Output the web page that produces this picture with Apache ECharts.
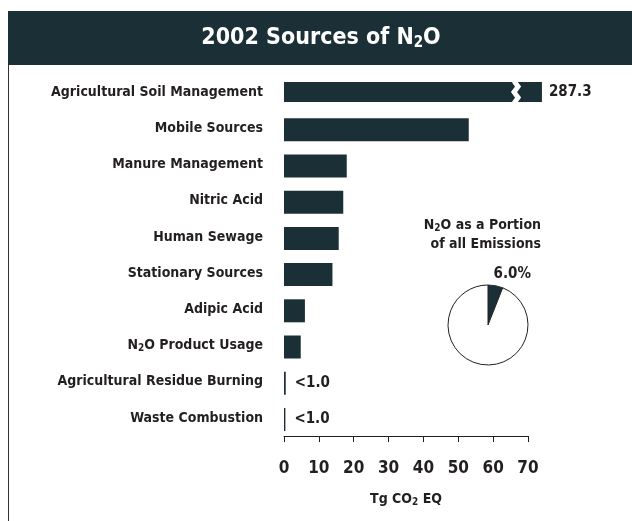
<!DOCTYPE html>
<html>
<head>
<meta charset="utf-8">
<script src="https://cdn.jsdelivr.net/npm/echarts@6/dist/echarts.min.js"></script>
<style>
html,body{margin:0;padding:0;background:#fff;}
#c{width:632px;height:521px;}
</style>
</head>
<body>
<div id="c"></div>
<script>
// ---- data ----
var categories = ['Agricultural Soil Management','Mobile Sources','Manure Management','Nitric Acid','Human Sewage','Stationary Sources','Adipic Acid','N2O Product Usage','Agricultural Residue Burning','Waste Combustion'];
var values = [287.3, 53.0, 18.0, 17.0, 15.7, 13.9, 6.0, 4.8, 0.5, 0.4];
var valueLabels = ['287.3','','','','','','','','<1.0','<1.0'];
var xTicks = [0, 10, 20, 30, 40, 50, 60, 70];
var axisMax = 70;
var brokenBarDrawnTo = 74;   // the off-scale bar is drawn broken, ending just past the axis
var breakAt = 66;            // where the zigzag break sits on the broken bar
var pieLabels = ['N2O', 'Other'];
var pieValues = [6.0, 94.0];

var FONT = "'Liberation Sans Narrow','DejaVu Sans Condensed',sans-serif";
var DARK = '#1b3036';
var TXT = '#231f20';

var chart = echarts.init(document.getElementById('c'), null, {renderer:'canvas'});

function catLabel(v){
  if (v.indexOf('N2O') === 0) return '{a|N}{s|2}{a|O' + v.slice(3) + '}';
  return '{a|' + v + '}';
}
function richSet(size, sub, color, lh, pad){
  return {
    a: {fontFamily: FONT, fontWeight: 'bold', fontSize: size, color: color, lineHeight: lh},
    s: {fontFamily: FONT, fontWeight: 'bold', fontSize: sub, color: color, lineHeight: lh, padding: [pad,0,0,0]}
  };
}

var mainData = values.map(function(v){ return v > axisMax ? '-' : v; });
var brokenData = values.map(function(v){ return v > axisMax ? brokenBarDrawnTo : '-'; });

var option = {
  animation: false,
  title: [
    {
      text: '{a|2002 Sources of N}{s|2}{a|O}',
      left: 321, top: 23, textAlign: 'center', padding: 0,
      textStyle: {rich: richSet(23, 15, '#fff', 30, 11)}
    },
    {
      text: pieValues[0].toFixed(1) + '%',
      right: 101, top: 267, padding: 0,
      textStyle: {fontFamily: FONT, fontWeight: 'bold', fontSize: 15, color: TXT}
    }
  ],
  graphic: [
    {type: 'rect', shape: {x: 8, y: 11, width: 624, height: 54}, style: {fill: DARK}, z: -10, silent: true},
    {type: 'line', shape: {x1: 8.5, y1: 65, x2: 8.5, y2: 521}, style: {stroke: '#333', lineWidth: 1}, silent: true}
  ],
  grid: {left: 284, right: 104, top: 74, bottom: 85, containLabel: false},
  xAxis: {
    type: 'value', min: 0, max: axisMax, interval: 10,
    axisLine: {show: true, lineStyle: {color: TXT, width: 1}},
    axisTick: {show: true, inside: false, length: 6, lineStyle: {color: TXT}},
    splitLine: {show: false},
    axisLabel: {
      margin: 24, fontFamily: FONT, fontWeight: 'bold', fontSize: 17, color: TXT,
      formatter: function(v){ return xTicks.indexOf(v) >= 0 ? String(v) : ''; }
    },
    name: '{a|Tg CO}{s|2}{a| EQ}', nameLocation: 'middle', nameGap: 53,
    nameTextStyle: {rich: richSet(14, 10, TXT, 20, 6)}
  },
  yAxis: {
    type: 'category', data: categories, inverse: true,
    axisLine: {show: false}, axisTick: {show: false},
    axisLabel: {margin: 21, formatter: catLabel, rich: richSet(14, 10, TXT, 20, 5)}
  },
  series: [
    {
      type: 'bar', data: mainData, barWidth: 23, silent: true,
      itemStyle: {color: DARK},
      label: {
        show: true, position: 'right', distance: 9,
        fontFamily: FONT, fontWeight: 'bold', fontSize: 15, color: TXT,
        formatter: function(p){ return valueLabels[p.dataIndex]; }
      }
    },
    {
      type: 'bar', data: brokenData, barWidth: 20, barGap: '-100%', silent: true, clip: false,
      itemStyle: {color: DARK},
      label: {
        show: true, position: 'right', distance: 7,
        fontFamily: FONT, fontWeight: 'bold', fontSize: 15, color: TXT,
        formatter: function(p){ return valueLabels[p.dataIndex]; }
      }
    },
    {
      type: 'pie', center: [488, 325], radius: 40, startAngle: 90, clockwise: true,
      silent: true, label: {show: false}, labelLine: {show: false},
      itemStyle: {borderColor: TXT, borderWidth: 1},
      data: [
        {name: pieLabels[0], value: pieValues[0], itemStyle: {color: DARK, borderColor: DARK}},
        {name: pieLabels[1], value: pieValues[1], itemStyle: {color: '#fff'}}
      ]
    }
  ]
};
chart.setOption(option);

var extra = [
  {type: 'text', id: 'pieTitle', x: 541, y: 216, silent: true,
    style: {
      text: '{a|N}{s|2}{a|O as a Portion}\n{a|of all Emissions}', align: 'right',
      rich: {
        a: {fontFamily: FONT, fontWeight: 'bold', fontSize: 14, fill: TXT, lineHeight: 19},
        s: {fontFamily: FONT, fontWeight: 'bold', fontSize: 10, fill: TXT, lineHeight: 19, padding: [5,0,0,0]}
      }
    }}
];
try {
  var bi = values.findIndex(function(v){ return v > axisMax; });
  var pt = chart.convertToPixel({gridIndex: 0}, [breakAt, bi]);
  var bh = 20, yTop = pt[1] - bh/2 - 1, yBot = pt[1] + bh/2 + 1, cx = pt[0];
  var zig = [[cx, yTop],[cx+4, yTop + (bh+2)*0.25],[cx, pt[1]],[cx+4, yTop + (bh+2)*0.75],[cx, yBot]];
  extra.push({type: 'polyline', id: 'zig', shape: {points: zig}, style: {stroke: '#fff', lineWidth: 5, fill: 'none'}, z: 100, silent: true});
} catch (e) { console.log('zig fail', e && e.message); }
chart.setOption({graphic: extra});
</script>
</body>
</html>
